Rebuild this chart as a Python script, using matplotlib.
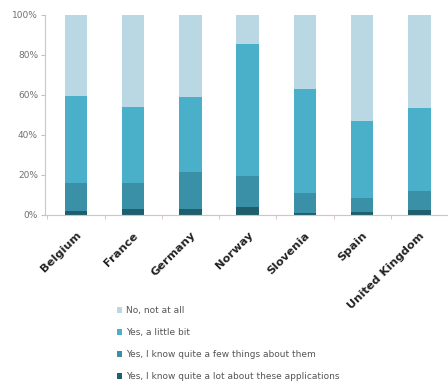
import matplotlib
matplotlib.use("Agg")
import matplotlib.pyplot as plt
from matplotlib.patches import Patch
import numpy as np

countries = ["Belgium", "France", "Germany", "Norway", "Slovenia", "Spain", "United Kingdom"]
lot = [2.2, 3.0, 3.0, 3.9, 1.0, 1.7, 2.5]
few = [14.0, 13.0, 18.5, 15.8, 9.9, 6.7, 9.5]
little = [43.3, 38.0, 37.3, 65.8, 52.1, 38.4, 41.5]
no = [40.5, 46.0, 41.2, 14.5, 37.0, 53.2, 46.5]

series_labels = ["No, not at all", "Yes, a little bit",
                 "Yes, I know quite a few things about them",
                 "Yes, I know quite a lot about these applications"]
colors = ["#b9d8e3", "#4aafc8", "#3a90a6", "#1f5e6c"]
ytick_labels = ["0%", "20%", "40%", "60%", "80%", "100%"]

W, H = 448, 387
fig = plt.figure(figsize=(W / 100, H / 100), dpi=100)
left, right, bottom, top = 45, 448, 172, 372  # pixel coords (from bottom)
ax = fig.add_axes([left / W, bottom / H, (right - left) / W, (top - bottom) / H])

x = np.arange(len(countries))
bw = 0.39
b = np.zeros(len(countries))
stack = [(lot, colors[3]), (few, colors[2]), (little, colors[1]), (no, colors[0])]
for vals, c in stack:
    ax.bar(x, vals, bw, bottom=b, color=c, edgecolor="none")
    b = b + np.array(vals)

ax.set_xlim(-0.54, 6.33)
ax.set_ylim(0, 100)
ax.set_yticks(np.arange(0, 101, 20))
ax.set_yticklabels(ytick_labels, fontsize=6.5, color="#707070")
ax.set_xticks(x)
ax.set_xticklabels(countries, rotation=45, ha="right", rotation_mode="anchor",
                   fontsize=8.2, fontweight="bold", color="#222222")
ax.tick_params(axis="x", length=0, pad=11)
ax.set_xticks(np.arange(-0.5, 6.6, 1), minor=True)
ax.tick_params(axis="x", which="minor", length=3, color="#d8b8b8", direction="out")
ax.tick_params(axis="y", length=3, color="#c0c0c0", pad=2)
for s in ["top", "right"]:
    ax.spines[s].set_visible(False)
ax.spines["left"].set_color("#c8c8c8")
ax.spines["bottom"].set_color("#c8c8c8")

handles = [Patch(facecolor=c, edgecolor="none") for c in colors]
fig.legend(handles, series_labels, loc="upper left",
           bbox_to_anchor=(117 / W, 1 - 306 / H), frameon=False,
           fontsize=6.5, labelcolor="#555555", handlelength=0.6, handleheight=0.6,
           handletextpad=0.4, labelspacing=1.45, borderaxespad=0, borderpad=0)

fig.savefig("out.png", dpi=100)
